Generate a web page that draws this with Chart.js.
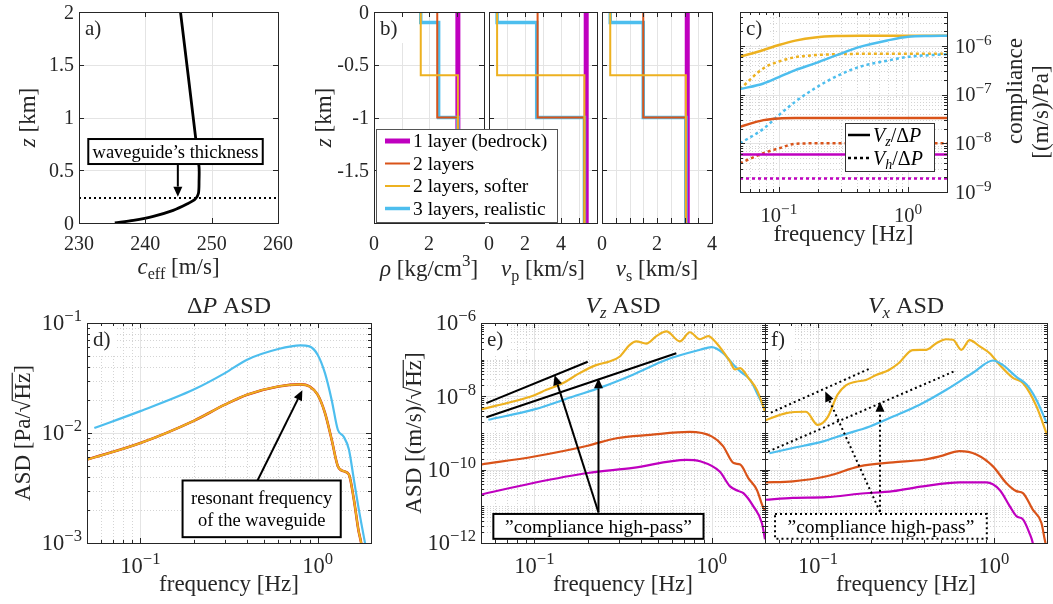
<!DOCTYPE html>
<html>
<head>
<meta charset="utf-8">
<script src="https://cdn.jsdelivr.net/npm/chart.js@4.4.1/dist/chart.umd.min.js"></script>
<style>
html, body { margin: 0; background: #fff; }
#fig { position: relative; width: 1053px; height: 604px; overflow: hidden; background: #fff; }
#fig canvas { position: absolute; left: 0; top: 0; }
</style>
</head>
<body>
<div id="fig"></div>
<script>
// ---------- data ----------
// a) effective sound speed profile
const aCeff = [235.4, 238.2, 241.2, 244.2, 246.2, 247.5, 248.0, 248.1, 248.1, 247.8, 247.6, 245.3];
const aZ    = [0, 0.025, 0.063, 0.12, 0.177, 0.225, 0.28, 0.405, 0.53, 0.66, 0.8, 2.0];
const aThick = 0.237;

// b) layered ground models: layer boundaries (km) and value in each layer
const zBed = [0, -2];
const z2   = [0, -1, -2];
const z2s  = [0, -0.6, -2];
const z3   = [0, -0.1, -1, -2];
const rhoBed = [3.05], rho2 = [2.3, 3.05], rho2s = [1.7, 3.05], rho3 = [1.7, 2.35, 3.05];
const vpBed  = [5.4],  vp2  = [2.7, 5.3],  vp2s  = [0.45, 5.3], vp3  = [0.45, 2.65, 5.3];
const vsBed  = [3.1],  vs2  = [1.5, 3.05], vs2s  = [0.3, 3.05], vs3  = [0.3, 1.5, 3.05];
const bLegend = ['1 layer (bedrock)', '2 layers', '2 layers, softer', '3 layers, realistic'];

// c) compliance
const cFreq    = [0.05, 0.076, 0.1, 0.134, 0.19, 0.28, 0.43, 0.69, 1.0, 1.5, 2.0];
const cYelZ    = [6.0e-7, 8.3e-7, 1.05e-6, 1.29e-6, 1.5e-6, 1.6e-6, 1.62e-6, 1.62e-6, 1.62e-6, 1.62e-6, 1.62e-6];
const cYelH    = [1.3e-7, 3.5e-7, 4.8e-7, 5.9e-7, 6.5e-7, 6.8e-7, 6.9e-7, 6.9e-7, 6.9e-7, 6.9e-7, 6.9e-7];
const cBluZ    = [1.3e-7, 1.7e-7, 2.3e-7, 3.2e-7, 4.4e-7, 6.5e-7, 9.7e-7, 1.3e-6, 1.55e-6, 1.61e-6, 1.62e-6];
const cBluH    = [1.0e-8, 2.0e-8, 3.8e-8, 7.2e-8, 1.35e-7, 2.4e-7, 3.8e-7, 5.0e-7, 6.0e-7, 6.5e-7, 6.8e-7];
const cOrgZ    = [2.2e-8, 3.0e-8, 3.25e-8, 3.3e-8, 3.3e-8, 3.3e-8, 3.3e-8, 3.3e-8, 3.3e-8, 3.3e-8, 3.3e-8];
const cOrgH    = [3.9e-9, 6.3e-9, 7.9e-9, 9.8e-9, 1.0e-8, 1.0e-8, 1.0e-8, 1.0e-8, 1.0e-8, 1.0e-8, 1.0e-8];
const cMagZ    = [5.9e-9, 5.9e-9, 5.9e-9, 5.9e-9, 5.9e-9, 5.9e-9, 5.9e-9, 5.9e-9, 5.9e-9, 5.9e-9, 5.9e-9];
const cMagH    = [1.9e-9, 1.9e-9, 1.9e-9, 1.9e-9, 1.9e-9, 1.9e-9, 1.9e-9, 1.9e-9, 1.9e-9, 1.9e-9, 1.9e-9];

// d) pressure ASD
const dFreqBlu = [0.055, 0.1, 0.2, 0.3, 0.4, 0.6, 0.8, 0.9, 1.0, 1.1, 1.2, 1.3, 1.4, 1.5, 1.6, 1.7, 1.85, 2.0];
const dBlu     = [0.0111, 0.0158, 0.0248, 0.035, 0.0464, 0.058, 0.0627, 0.0613, 0.0515, 0.035, 0.020, 0.0107, 0.0093, 0.0071, 0.0038, 0.0021, 0.001, 0.0005];
const dFreq    = [0.05, 0.1, 0.2, 0.3, 0.4, 0.6, 0.8, 0.9, 1.0, 1.1, 1.2, 1.3, 1.4, 1.5, 1.6, 1.7, 1.76, 1.9];
const dLayer   = [0.00573, 0.0081, 0.0129, 0.0181, 0.0223, 0.0265, 0.0277, 0.0265, 0.0223, 0.0152, 0.0087, 0.0050, 0.0045, 0.0042, 0.0025, 0.0013, 0.001, 0.0004];

// e) Vz ASD
const eFreqYel = [0.05, 0.075, 0.1, 0.116, 0.145, 0.18, 0.223, 0.265, 0.302, 0.344, 0.376, 0.428, 0.488, 0.556, 0.662, 0.754, 0.859, 0.957, 1.067, 1.27, 1.355, 1.447, 1.61, 1.8, 2.0];
const eYel     = [4.4e-9, 7.1e-9, 1.07e-8, 1.48e-8, 2.3e-8, 4.3e-8, 7.1e-8, 8.9e-8, 1.2e-7, 2.5e-7, 3.16e-7, 2.75e-7, 4.4e-7, 5.9e-7, 3.16e-7, 5.6e-7, 3.6e-7, 4.4e-7, 2.8e-7, 8.9e-8, 5.4e-8, 5.9e-8, 3.2e-8, 1.5e-8, 3.9e-9];
const eFreqBlu = [0.055, 0.1, 0.172, 0.233, 0.36, 0.556, 0.86, 1.0, 1.16, 1.33, 1.45, 1.65, 1.84, 2.0];
const eBlu     = [2.3e-9, 4.4e-9, 1.05e-8, 1.7e-8, 3.9e-8, 1.0e-7, 1.86e-7, 2.19e-7, 1.51e-7, 7.2e-8, 4.8e-8, 2.8e-8, 1.0e-8, 4.4e-9];
const eFreqOrg = [0.05, 0.1, 0.2, 0.29, 0.45, 0.75, 1.0, 1.16, 1.33, 1.45, 1.61, 1.8, 1.96, 2.0];
const eOrg     = [1.38e-10, 2.29e-10, 4.5e-10, 7.2e-10, 8.9e-10, 1.07e-9, 8.1e-10, 4.4e-10, 1.51e-10, 1.38e-10, 5.9e-11, 2.8e-11, 8.9e-12, 7.9e-12];
const eFreqMag = [0.05, 0.1, 0.2, 0.36, 0.72, 0.86, 1.11, 1.27, 1.42, 1.51, 1.72, 1.92, 2.0];
const eMag     = [2.1e-11, 4.4e-11, 8.1e-11, 1.12e-10, 1.86e-10, 1.7e-10, 8.9e-11, 3.5e-11, 2.6e-11, 2.3e-11, 1.0e-11, 3.5e-12, 1.26e-12];
const eGuideF1 = [0.0536, 0.2],   eGuide1 = [6.5e-9, 8.8e-8];
const eGuideF2 = [0.0536, 0.632], eGuide2 = [2.7e-9, 1.49e-7];

// f) Vx ASD
const fFreqYel = [0.05, 0.066, 0.0855, 0.0996, 0.1135, 0.129, 0.144, 0.164, 0.1875, 0.214, 0.253, 0.288, 0.345, 0.413, 0.47, 0.536, 0.585, 0.652, 0.727, 0.83, 0.945, 1.077, 1.28, 1.46, 1.74, 2.0];
const fYel     = [2.2e-9, 3.5e-9, 3.8e-9, 1.66e-9, 2.7e-9, 1.1e-8, 2.0e-8, 2.5e-8, 2.8e-8, 3.8e-8, 5.2e-8, 8.1e-8, 1.82e-7, 1.86e-7, 2.8e-7, 3.6e-7, 3.5e-7, 1.86e-7, 3.4e-7, 2.3e-7, 1.5e-7, 7.2e-8, 3.2e-8, 2.3e-8, 5.4e-9, 8.9e-10];
const fFreqBlu = [0.053, 0.072, 0.107, 0.139, 0.197, 0.267, 0.378, 0.536, 0.76, 0.987, 1.12, 1.34, 1.53, 1.74, 2.0];
const fBlu     = [2.8e-10, 3.9e-10, 5.9e-10, 8.9e-10, 1.51e-9, 2.8e-9, 5.9e-9, 1.51e-8, 4.4e-8, 9.5e-8, 7.2e-8, 3.4e-8, 2.1e-8, 8.1e-9, 1.8e-9];
const fFreqOrg = [0.05, 0.072, 0.112, 0.172, 0.267, 0.395, 0.49, 0.638, 0.794, 0.987, 1.17, 1.34, 1.46, 1.66, 1.86, 1.94, 1.97];
const fOrg     = [4.5e-11, 4.8e-11, 6.6e-11, 1.23e-10, 1.58e-10, 1.86e-10, 2.3e-10, 3.2e-10, 2.6e-10, 1.23e-10, 4.4e-11, 2.6e-11, 2.3e-11, 8.1e-12, 3.5e-12, 1.26e-12, 9e-13];
const fFreqMag = [0.05, 0.072, 0.112, 0.172, 0.267, 0.395, 0.638, 0.904, 1.077, 1.23, 1.34, 1.46, 1.59, 1.66, 1.7];
const fMag     = [1.51e-11, 1.7e-11, 1.78e-11, 2.2e-11, 2.6e-11, 3.5e-11, 4.5e-11, 4.5e-11, 2.8e-11, 1.0e-11, 5.4e-12, 4.4e-12, 1.86e-12, 1.0e-12, 5e-13];
const fGuideF1 = [0.054, 0.2], fGuide1 = [3.6e-9, 5.9e-8];
const fGuideF2 = [0.052, 0.6], fGuide2 = [3.1e-10, 4.9e-8];

// ticks
const aXTicks = [230, 240, 250, 260];
const aYTicks = [0, 0.5, 1, 1.5, 2];
const bYTicks = [0, -0.5, -1, -1.5, -2];
const bYLabels = [0, -0.5, -1, -1.5];
const b1Ticks = [0, 1, 2, 3, 4], b1Labels = [0, 2];
const b2Ticks = [0, 1, 2, 3, 4, 5, 6], b2Labels = [0, 2, 4];
const b3Ticks = [0, 0.5, 1, 1.5, 2, 2.5, 3, 3.5, 4], b3Labels = [0, 2, 4];
const freqMajor = [0.1, 1];
const freqMinor = [0.05, 0.06, 0.07, 0.08, 0.09, 0.2, 0.3, 0.4, 0.5, 0.6, 0.7, 0.8, 0.9, 2];
const minorMult = [2, 3, 4, 5, 6, 7, 8, 9];

// ---------- helpers ----------
const W = 1053, H = 604;
const FONT = '"Liberation Serif", "DejaVu Serif", serif';
const INK = '#262626';
const MAG = '#BF00BF', ORG = '#D95319', YEL = '#EDB120', BLU = '#4DBEEE';
const TICK = 20, LAB = 23, TTL = 24;
const extras = {};

function decadeMinors(lo, hi) {
  const out = [];
  for (let e = lo; e < hi; e++) minorMult.forEach(m => out.push(m * Math.pow(10, e)));
  return out;
}

function parse(s) {
  return s.split('|').map(p => {
    const m = p.match(/^(_i|i|_|\^|o):(.*)$/);
    if (!m) return { t: p };
    const k = m[1];
    return { t: m[2], i: k === 'i' || k === '_i', sub: k === '_' || k === '_i', sup: k === '^', ov: k === 'o' };
  });
}
function fnt(s, size) {
  const sz = s.sub ? size * 0.7 : s.sup ? size * 0.74 : size;
  return (s.i ? 'italic ' : '') + sz.toFixed(1) + 'px ' + FONT;
}
function rich(ctx, str, x, y, size, align, rot, color) {
  const segs = parse(str);
  ctx.save();
  ctx.translate(x, y);
  if (rot) ctx.rotate(rot);
  ctx.textAlign = 'left';
  ctx.textBaseline = 'alphabetic';
  ctx.fillStyle = color || INK;
  let w = 0;
  segs.forEach(s => { ctx.font = fnt(s, size); s.w = ctx.measureText(s.t).width; w += s.w; });
  let cx = align === 'left' ? 0 : align === 'right' ? -w : -w / 2;
  const base = size * 0.33;
  segs.forEach(s => {
    ctx.font = fnt(s, size);
    const dy = s.sub ? size * 0.22 : s.sup ? -size * 0.4 : 0;
    ctx.fillText(s.t, cx, base + dy);
    if (s.ov) ctx.fillRect(cx - 1, base - size * 0.78, s.w + 1, 1.2);
    cx += s.w;
  });
  ctx.restore();
}
function fmt(v, log) {
  if (!log) return String(v);
  const e = Math.round(Math.log10(v));
  return '10|^:' + (e < 0 ? '\u2212' + (-e) : String(e));
}
function seg(ctx, x1, y1, x2, y2) { ctx.beginPath(); ctx.moveTo(x1, y1); ctx.lineTo(x2, y2); ctx.stroke(); }
function arrow(ctx, x1, y1, x2, y2, dash) {
  const ang = Math.atan2(y2 - y1, x2 - x1), hl = 10, hw = 4.5;
  const bx = x2 - hl * Math.cos(ang), by = y2 - hl * Math.sin(ang);
  ctx.strokeStyle = '#000'; ctx.fillStyle = '#000'; ctx.lineWidth = 2;
  ctx.setLineDash(dash || []);
  seg(ctx, x1, y1, bx, by);
  ctx.setLineDash([]);
  ctx.beginPath();
  ctx.moveTo(x2, y2);
  ctx.lineTo(bx - hw * Math.sin(ang), by + hw * Math.cos(ang));
  ctx.lineTo(bx + hw * Math.sin(ang), by - hw * Math.cos(ang));
  ctx.closePath(); ctx.fill();
}
function tbox(ctx, xa, ya, xb, yb, lines, size, dash) {
  const x1 = Math.min(xa, xb), x2 = Math.max(xa, xb), y1 = Math.min(ya, yb), y2 = Math.max(ya, yb);
  ctx.save();
  ctx.fillStyle = '#fff'; ctx.fillRect(x1, y1, x2 - x1, y2 - y1);
  ctx.strokeStyle = '#000'; ctx.lineWidth = 2; ctx.setLineDash(dash || []);
  ctx.strokeRect(x1, y1, x2 - x1, y2 - y1);
  ctx.setLineDash([]);
  const cy = (y1 + y2) / 2, lh = size * 1.15;
  lines.forEach((t, i) => rich(ctx, t, (x1 + x2) / 2, cy + (i - (lines.length - 1) / 2) * lh, size, 'center', 0, '#000'));
  ctx.restore();
}

Chart.register({
  id: 'mat',
  beforeDatasetsDraw(chart) {
    const ex = extras[chart.canvas.id];
    if (!ex) return;
    const { ctx, chartArea: a } = chart, sx = chart.scales.x, sy = chart.scales.y;
    ctx.save();
    ctx.lineWidth = 1;
    const vl = v => { const p = Math.round(sx.getPixelForValue(v)) + 0.5; seg(ctx, p, a.top, p, a.bottom); };
    const hl = v => { const p = Math.round(sy.getPixelForValue(v)) + 0.5; seg(ctx, a.left, p, a.right, p); };
    ctx.strokeStyle = '#d4d4d4'; ctx.setLineDash([1, 2]);
    (ex.xMinor || []).forEach(vl);
    (ex.yMinor || []).forEach(hl);
    ctx.setLineDash([]); ctx.strokeStyle = '#e4e4e4';
    (ex.xMajor || []).forEach(vl);
    (ex.yMajor || []).forEach(hl);
    ctx.restore();
  },
  afterDatasetsDraw(chart) {
    const ex = extras[chart.canvas.id];
    if (!ex) return;
    const { ctx, chartArea: a } = chart, sx = chart.scales.x, sy = chart.scales.y;
    const X = v => sx.getPixelForValue(v), Y = v => sy.getPixelForValue(v);
    const L = a.left, R = a.right, T = a.top, B = a.bottom;
    const ts = ex.tick || TICK;
    ctx.save();
    if (ex.draw) { ctx.save(); ex.draw(ctx, X, Y, a); ctx.restore(); }
    // panel letter
    if (ex.label) {
      ctx.fillStyle = '#fff'; ctx.fillRect(L + 1, T + 1, 28, 30);
      rich(ctx, ex.label, L + 6, T + 16, 21, 'left');
    }
    // box and inward ticks
    ctx.strokeStyle = INK; ctx.lineWidth = 1; ctx.setLineDash([]);
    ctx.beginPath();
    const tx = (v, len) => { const p = Math.round(X(v)) + 0.5; ctx.moveTo(p, B); ctx.lineTo(p, B - len); ctx.moveTo(p, T); ctx.lineTo(p, T + len); };
    const ty = (v, len) => { const p = Math.round(Y(v)) + 0.5; ctx.moveTo(L, p); ctx.lineTo(L + len, p); ctx.moveTo(R, p); ctx.lineTo(R - len, p); };
    (ex.xMajor || []).forEach(v => tx(v, 5));
    (ex.xMinor || []).forEach(v => tx(v, 3));
    (ex.yMajor || []).forEach(v => ty(v, 5));
    (ex.yMinor || []).forEach(v => ty(v, 3));
    ctx.stroke();
    ctx.strokeRect(Math.round(L) + 0.5, Math.round(T) + 0.5, Math.round(R - L), Math.round(B - T));
    // tick labels
    (ex.xLab || []).forEach(v => rich(ctx, fmt(v, ex.logX), X(v), B + (ex.logX ? 23 : 20), ts, 'center'));
    (ex.yLab || []).forEach(v => rich(ctx, fmt(v, ex.logY), ex.yRight ? R + 8 : L - 5, Y(v), ts, ex.yRight ? 'left' : 'right'));
    // titles
    if (ex.xTitle) rich(ctx, ex.xTitle, (L + R) / 2, B + ex.xTitleOff, LAB, 'center');
    if (ex.yTitle) rich(ctx, ex.yTitle, L - ex.yTitleOff, (T + B) / 2, LAB, 'center', -Math.PI / 2);
    if (ex.title) rich(ctx, ex.title, (L + R) / 2, T - 18, TTL, 'center');
    if (ex.after) { ctx.save(); ex.after(ctx, X, Y, a); ctx.restore(); }
    ctx.restore();
  }
});

function line(xs, ys, color, width, more) {
  return Object.assign({
    data: xs.map((v, i) => ({ x: v, y: ys[i] })),
    borderColor: color, borderWidth: width, pointRadius: 0, fill: false,
    borderCapStyle: 'butt', borderJoinStyle: 'round'
  }, more || {});
}
function smooth(xs, ys, color, width, more) {
  return line(xs, ys, color, width, Object.assign({ cubicInterpolationMode: 'monotone' }, more || {}));
}
function steps(zs, vals, color, width, order) {
  const xs = [], ys = [];
  vals.forEach((v, i) => { xs.push(v, v); ys.push(zs[i], zs[i + 1]); });
  return line(xs, ys, color, width, { order: order, borderJoinStyle: 'miter' });
}

function panel(id, area, xType, xr, yType, yr, datasets, ex) {
  const cv = document.createElement('canvas');
  cv.id = id; cv.width = W; cv.height = H;
  document.getElementById('fig').appendChild(cv);
  extras[id] = ex;
  return new Chart(cv, {
    type: 'line',
    data: { datasets: datasets },
    options: {
      responsive: false, animation: false, devicePixelRatio: 1,
      layout: { padding: { left: area[0], top: area[1], right: W - area[2], bottom: H - area[3] } },
      plugins: { legend: { display: false }, tooltip: { enabled: false } },
      scales: {
        x: { type: xType, min: xr[0], max: xr[1], display: false },
        y: { type: yType, min: yr[0], max: yr[1], display: false }
      }
    }
  });
}

// ---------- a) ----------
panel('pa', [79, 12, 278, 223], 'linear', [230, 260], 'linear', [0, 2], [
  line(aCeff, aZ, '#000', 2.8, { tension: 0.3 }),
  line([230, 260], [aThick, aThick], '#000', 2, { borderDash: [2, 3] })
], {
  label: 'a)', xMajor: aXTicks, yMajor: aYTicks, xLab: aXTicks, yLab: aYTicks,
  xTitle: 'i:c|_:eff| [m/s]', xTitleOff: 43, yTitle: 'i:z| [km]', yTitleOff: 52,
  draw(ctx, X, Y) {
    tbox(ctx, X(231.4), Y(0.796), X(257.7), Y(0.559), ['waveguide\u2019s thickness'], 18.5);
    arrow(ctx, X(244.9), Y(0.559), X(244.9), Y(0.25));
  }
});

// ---------- b) ----------
const bStyle = [[MAG, 5], [ORG, 2], [YEL, 2], [BLU, 3.5]];
function bSets(bed, two, soft, three) {
  return [
    steps(zBed, bed, MAG, 5, 4),
    steps(z3, three, BLU, 3.5, 3),
    steps(z2, two, ORG, 2, 2),
    steps(z2s, soft, YEL, 2, 1)
  ];
}
panel('pb2', [489, 12, 597, 223], 'linear', [0, 6], 'linear', [-2, 0], bSets(vpBed, vp2, vp2s, vp3), {
  xMajor: b2Ticks, yMajor: bYTicks, xLab: b2Labels,
  xTitle: 'i:v|_:p| [km/s]', xTitleOff: 45
});
panel('pb3', [602, 12, 712, 223], 'linear', [0, 4], 'linear', [-2, 0], bSets(vsBed, vs2, vs2s, vs3), {
  xMajor: b3Ticks, yMajor: bYTicks, xLab: b3Labels,
  xTitle: 'i:v|_:s| [km/s]', xTitleOff: 45
});
panel('pb1', [374, 12, 484, 223], 'linear', [0, 4], 'linear', [-2, 0], bSets(rhoBed, rho2, rho2s, rho3), {
  label: 'b)', xMajor: b1Ticks, yMajor: bYTicks, xLab: b1Labels, yLab: bYLabels,
  xTitle: 'i:ρ| [kg/cm|^:3|]', xTitleOff: 45, yTitle: 'i:z| [km]', yTitleOff: 51,
  after(ctx, X, Y, a) {
    const x0 = a.left + 2, y0 = a.top + 117, w = 181, h = 93;
    ctx.fillStyle = '#fff'; ctx.fillRect(x0, y0, w, h);
    ctx.strokeStyle = '#555'; ctx.lineWidth = 1; ctx.strokeRect(x0 + 0.5, y0 + 0.5, w, h);
    bLegend.forEach((t, i) => {
      const y = y0 + 12 + i * 22.5;
      ctx.strokeStyle = bStyle[i][0]; ctx.lineWidth = bStyle[i][1];
      seg(ctx, x0 + 9, y, x0 + 34, y);
      rich(ctx, t, x0 + 37, y, 19.5, 'left', 0, '#000');
    });
  }
});

// ---------- c) ----------
const dot = { borderDash: [3, 3] };
panel('pc', [740, 12, 947, 192], 'logarithmic', [0.05, 2], 'logarithmic', [1e-9, 5e-6], [
  smooth(cFreq, cMagH, MAG, 2.5, dot), smooth(cFreq, cMagZ, MAG, 2.5),
  smooth(cFreq, cOrgH, ORG, 2.5, dot), smooth(cFreq, cOrgZ, ORG, 2.5),
  smooth(cFreq, cBluH, BLU, 2.5, dot), smooth(cFreq, cBluZ, BLU, 2.5),
  smooth(cFreq, cYelH, YEL, 2.5, dot), smooth(cFreq, cYelZ, YEL, 2.5)
], {
  label: 'c)', logX: true, logY: true, yRight: true, tick: 20.5,
  xMajor: freqMajor, xMinor: freqMinor, xLab: freqMajor,
  yMajor: [1e-9, 1e-8, 1e-7, 1e-6], yMinor: decadeMinors(-9, -6).concat([2e-6, 3e-6, 4e-6, 5e-6]),
  yLab: [1e-9, 1e-8, 1e-7, 1e-6],
  xTitle: 'frequency [Hz]', xTitleOff: 41,
  after(ctx, X, Y, a) {
    rich(ctx, 'compliance', a.right + 67, a.top + 79, LAB, 'center', -Math.PI / 2);
    rich(ctx, '[(m/s)/Pa]', a.right + 93, a.top + 100, LAB, 'center', -Math.PI / 2);
    const x0 = a.right - 102, y0 = a.top + 111, w = 89, h = 48;
    ctx.fillStyle = '#fff'; ctx.fillRect(x0, y0, w, h);
    ctx.strokeStyle = '#333'; ctx.lineWidth = 1; ctx.strokeRect(x0 + 0.5, y0 + 0.5, w, h);
    ctx.strokeStyle = '#000'; ctx.lineWidth = 2.5;
    seg(ctx, x0 + 3, y0 + 12, x0 + 25, y0 + 12);
    ctx.setLineDash([3, 3]); seg(ctx, x0 + 3, y0 + 35, x0 + 26, y0 + 35); ctx.setLineDash([]);
    rich(ctx, 'i:V|_i:z|/Δ|i:P', x0 + 28, y0 + 12, 20, 'left', 0, '#000');
    rich(ctx, 'i:V|_i:h|/Δ|i:P', x0 + 28, y0 + 35, 20, 'left', 0, '#000');
  }
});

// ---------- d) ----------
panel('pd', [87, 323, 371, 543], 'logarithmic', [0.05, 2], 'logarithmic', [1e-3, 1e-1], [
  smooth(dFreq, dLayer, MAG, 2, { order: 4 }),
  smooth(dFreq, dLayer, ORG, 2.6, { order: 3 }),
  smooth(dFreq, dLayer, YEL, 1.8, { order: 2 }),
  smooth(dFreqBlu, dBlu, BLU, 2.2, { order: 1 })
], {
  label: 'd)', logX: true, logY: true, tick: 22.5,
  xMajor: freqMajor, xMinor: freqMinor, xLab: freqMajor,
  yMajor: [1e-3, 1e-2, 1e-1], yMinor: decadeMinors(-3, -1), yLab: [1e-3, 1e-2, 1e-1],
  xTitle: 'frequency [Hz]', xTitleOff: 40, yTitle: 'ASD [Pa/√|o:Hz|]', yTitleOff: 65,
  title: 'Δ|i:P| ASD',
  draw(ctx, X, Y) {
    arrow(ctx, X(0.458), Y(3.7e-3), X(0.82), Y(0.0245));
    tbox(ctx, X(0.173), Y(3.7e-3), X(1.35), Y(1.13e-3), ['resonant frequency', 'of the waveguide'], 18.5);
  }
});

// ---------- e) ----------
const ezMinor = decadeMinors(-12, -6).concat([1e-11, 1e-9, 1e-7]);
const ezMajor = [1e-12, 1e-10, 1e-8, 1e-6];
panel('pe', [481, 323, 765, 543], 'logarithmic', [0.05, 2], 'logarithmic', [1e-12, 1e-6], [
  smooth(eFreqMag, eMag, MAG, 2.2, { order: 6 }),
  smooth(eFreqOrg, eOrg, ORG, 2.2, { order: 5 }),
  smooth(eFreqBlu, eBlu, BLU, 2.2, { order: 4 }),
  smooth(eFreqYel, eYel, YEL, 2.2, { order: 3 }),
  line(eGuideF1, eGuide1, '#000', 2, { order: 2 }),
  line(eGuideF2, eGuide2, '#000', 2, { order: 1 })
], {
  label: 'e)', logX: true, logY: true, tick: 22.5,
  xMajor: freqMajor, xMinor: freqMinor, xLab: freqMajor,
  yMajor: ezMajor, yMinor: ezMinor, yLab: ezMajor,
  xTitle: 'frequency [Hz]', xTitleOff: 40, yTitle: 'ASD [(m/s)/√|o:Hz|]', yTitleOff: 68,
  title: 'i:V|_i:z| ASD',
  draw(ctx, X, Y) {
    arrow(ctx, X(0.23), Y(6.8e-12), X(0.13), Y(3.8e-8));
    arrow(ctx, X(0.23), Y(6.8e-12), X(0.23), Y(3.1e-8));
    tbox(ctx, X(0.0587), Y(6.2e-12), X(0.9), Y(1.3e-12), ['\u201Dcompliance high-pass\u201D'], 19.5);
  }
});

// ---------- f) ----------
panel('pf', [765, 323, 1047, 543], 'logarithmic', [0.05, 2], 'logarithmic', [1e-12, 1e-6], [
  smooth(fFreqMag, fMag, MAG, 2.2, { order: 6 }),
  smooth(fFreqOrg, fOrg, ORG, 2.2, { order: 5 }),
  smooth(fFreqYel, fYel, YEL, 2.2, { order: 4 }),
  smooth(fFreqBlu, fBlu, BLU, 2.2, { order: 3 }),
  line(fGuideF1, fGuide1, '#000', 2, { order: 2, borderDash: [2, 3] }),
  line(fGuideF2, fGuide2, '#000', 2, { order: 1, borderDash: [2, 3] })
], {
  label: 'f)', logX: true, logY: true, tick: 22.5,
  xMajor: freqMajor, xMinor: freqMinor, xLab: freqMajor,
  yMajor: ezMajor, yMinor: ezMinor,
  xTitle: 'frequency [Hz]', xTitleOff: 40,
  title: 'i:V|_i:x| ASD',
  draw(ctx, X, Y) {
    arrow(ctx, X(0.225), Y(7.1e-12), X(0.11), Y(1.35e-8), [2, 3]);
    arrow(ctx, X(0.225), Y(7.1e-12), X(0.225), Y(7.1e-9), [2, 3]);
    tbox(ctx, X(0.057), Y(6.2e-12), X(0.91), Y(1.3e-12), ['\u201Dcompliance high-pass\u201D'], 19.5, [2, 3]);
  }
});
</script>
</body>
</html>
